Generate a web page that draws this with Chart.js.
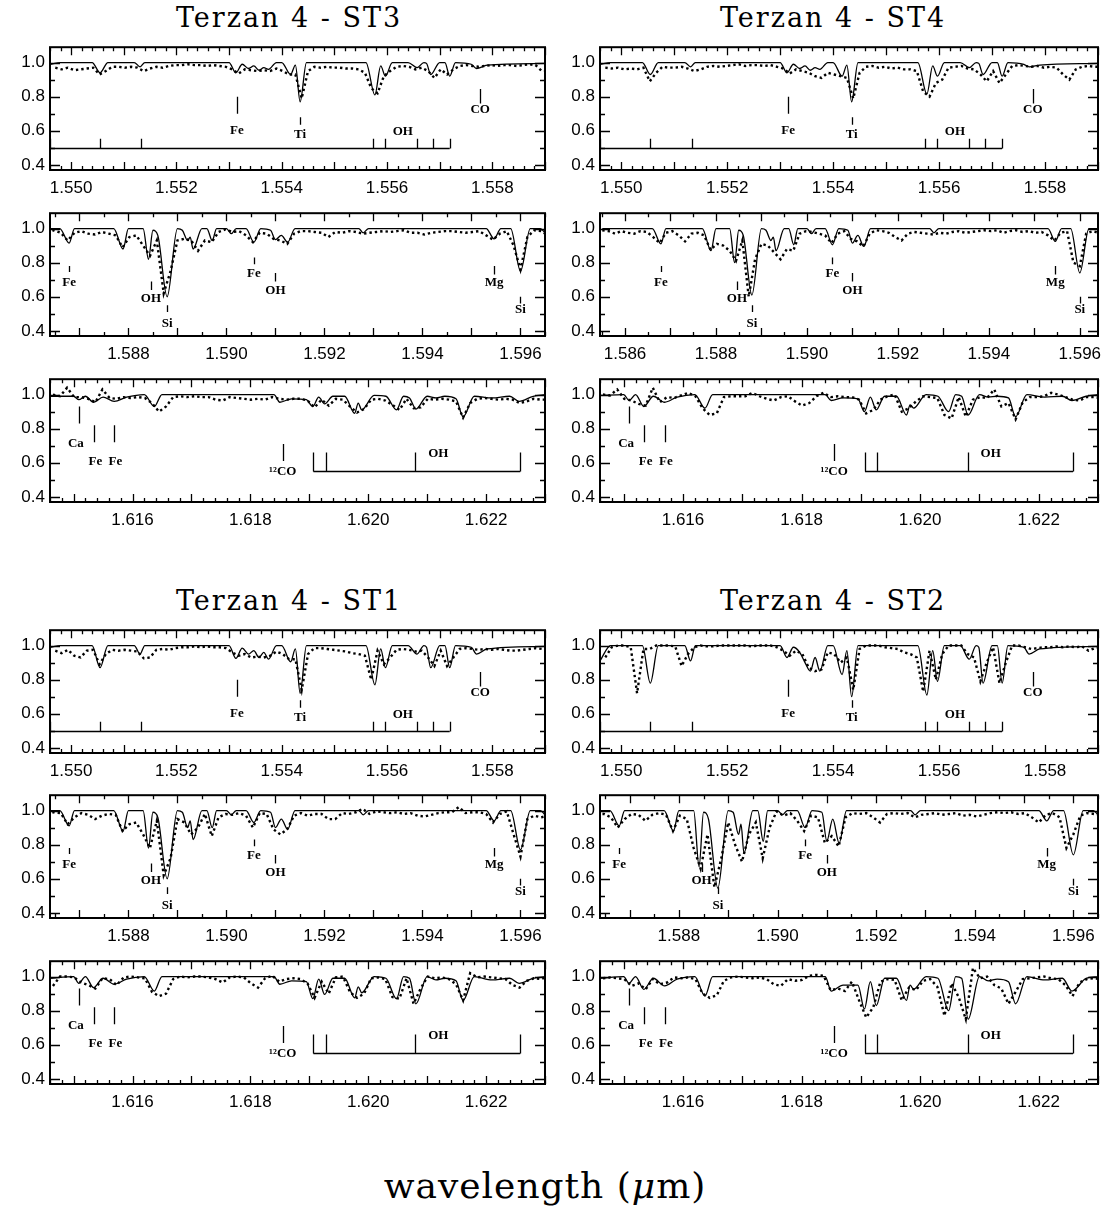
<!DOCTYPE html>
<html>
<head>
<meta charset="utf-8">
<script src="https://cdn.jsdelivr.net/npm/chart.js@4.4.1/dist/chart.umd.min.js"></script>
<style>
  body { margin: 0; background: #fff; }
  #page { position: relative; width: 1106px; height: 1207px; overflow: hidden; background: #fff; }
  #page canvas { position: absolute; }
  .txt { position: absolute; transform: translate(-50%, -50%); white-space: nowrap; color: #000; }
  .title { font-family: "DejaVu Serif"; font-size: 27px; letter-spacing: 2px; }
  .xlabel { font-family: "DejaVu Serif"; font-size: 36px; letter-spacing: 1px; }
</style>
</head>
<body>
<div id="page">
  <div class="txt title" style="left:289px; top:17px;">Terzan 4 - ST3</div>
  <div class="txt title" style="left:833px; top:17px;">Terzan 4 - ST4</div>
  <div class="txt title" style="left:289px; top:600px;">Terzan 4 - ST1</div>
  <div class="txt title" style="left:833px; top:600px;">Terzan 4 - ST2</div>
  <div class="txt xlabel" style="left:545px; top:1185px;">wavelength (<i>μ</i>m)</div>
</div>
<script>
// tick labels
const yTickLabels = [0.4, 0.6, 0.8, 1.0];
const xTicksA = [1.550, 1.552, 1.554, 1.556, 1.558];
const xTicksB = [1.588, 1.590, 1.592, 1.594, 1.596];
const xTicksBwide = [1.586, 1.588, 1.590, 1.592, 1.594, 1.596];
const xTicksC = [1.616, 1.618, 1.620, 1.622];

// --- window A (1.550 - 1.559 um) ---
const wlModA = [1.5496, 1.5498, 1.5504, 1.55055, 1.5507, 1.5512, 1.55131, 1.5514, 1.5530, 1.55313,
  1.55325, 1.55337, 1.55347, 1.55357, 1.55366, 1.55375, 1.5539, 1.5540, 1.55417, 1.55426,
  1.55435, 1.55447, 1.5556, 1.55577, 1.55588, 1.55597, 1.5561, 1.5564, 1.55657, 1.5567,
  1.55675, 1.55683, 1.5570, 1.5571, 1.55719, 1.5573, 1.5576, 1.5577, 1.5579, 1.5590];
const modST3_A = [.99, 1, 1, .94, 1, 1, .975, 1, 1, .94, .99, .965, .98, .955, .97, .96, 1, 1, .93, .985,
  .77, 1, 1, .81, .98, .92, 1, 1, .97, 1, .995, .93, 1, 1, .92, 1, .99, .965, .985, .995];
const modST4_A = [.99, 1, 1, .93, 1, 1, .975, 1, 1, .94, .99, .965, .98, .955, .97, .96, 1, 1, .92, .985,
  .77, 1, 1, .815, .98, .92, 1, 1, .97, 1, .995, .93, 1, 1, .92, 1, .99, .975, .985, .995];
const modST1_A = [.99, 1, 1, .87, 1, 1, .95, 1, 1, .925, .985, .95, .97, .93, .96, .92, 1, 1, .905, .98,
  .72, 1, 1, .77, .98, .87, 1, 1, .95, 1, .99, .87, 1, 1, .87, 1, .99, .95, .98, .995];
const modST2_A = [.91, 1, 1, .78, 1, 1, .91, 1, 1, .93, .99, .96, .90, .85, .93, .85, 1, 1, .83, .97,
  .70, 1, 1, .71, .97, .79, 1, 1, .92, 1, .99, .78, 1, 1, .78, 1, .99, .95, .98, .995];

const wlObsA = [1.54970, 1.54982, 1.54994, 1.55006, 1.55018, 1.55030, 1.55042, 1.55054, 1.55066, 1.55078,
  1.55090, 1.55102, 1.55114, 1.55126, 1.55138, 1.55150, 1.55162, 1.55174, 1.55186, 1.55198,
  1.55210, 1.55222, 1.55234, 1.55246, 1.55258, 1.55270, 1.55282, 1.55294, 1.55306, 1.55318,
  1.55330, 1.55342, 1.55354, 1.55366, 1.55378, 1.55390, 1.55402, 1.55414, 1.55426, 1.55438,
  1.55450, 1.55462, 1.55474, 1.55486, 1.55498, 1.55510, 1.55522, 1.55534, 1.55546, 1.55558,
  1.55570, 1.55582, 1.55594, 1.55606, 1.55618, 1.55630, 1.55642, 1.55654, 1.55666, 1.55678,
  1.55690, 1.55702, 1.55714, 1.55726, 1.55738, 1.55750, 1.55762, 1.55774, 1.55786, 1.55798,
  1.55810, 1.55822, 1.55834, 1.55846, 1.55858, 1.55870, 1.55882, 1.55894, 1.55906];
const obsST3_A = [.97, .96, .97, .955, .96, .965, .97, .93, .95, .975,
  .975, .97, .975, .97, .95, .965, .975, .97, .98, .985,
  .985, .99, .985, .985, .98, .985, .98, .975, .96, .935,
  .96, .955, .95, .955, .95, .965, .95, .93, .93, .79,
  .95, .975, .97, .975, .97, .97, .965, .965, .96, .94,
  .85, .82, .92, .95, .975, .98, .975, .96, .97, .95,
  .91, .96, .93, .96, .98, .985, .98, .975, .98, .985,
  .98, .985, .985, .98, .985, .99, .985, .95, .95];
const obsST4_A = [.97, .965, .97, .96, .965, .96, .97, .89, .94, .975,
  .97, .97, .975, .965, .95, .96, .975, .98, .975, .98,
  .985, .99, .98, .985, .985, .98, .985, .975, .965, .935,
  .96, .95, .94, .92, .91, .94, .93, .92, .91, .79,
  .94, .975, .98, .97, .975, .965, .97, .96, .96, .95,
  .83, .80, .88, .90, .97, .975, .98, .965, .96, .93,
  .89, .95, .88, .93, .98, .985, .98, .975, .98, .97,
  .975, .97, .93, .90, .96, .975, .98, .975, .975];
const obsST1_A = [.97, .955, .975, .94, .93, .97, .975, .89, .95, .975,
  .97, .975, .97, .965, .925, .93, .975, .98, .975, .985,
  .99, .99, .995, .99, .995, .99, .99, .985, .96, .94,
  .95, .93, .935, .93, .94, .965, .95, .92, .92, .74,
  .95, .985, .985, .98, .975, .97, .965, .955, .95, .94,
  .80, .97, .89, .93, .975, .98, .975, .965, .97, .93,
  .88, .97, .88, .93, .98, .985, .98, .975, .98, .975,
  .98, .975, .97, .97, .975, .98, .985, .98, .98];
const obsST2_A = [.93, .99, 1, 1, .99, .72, .98, .98, 1, 1,
  1, .995, .88, .95, .99, 1, .995, .995, 1, 1,
  1, 1, 1, .995, 1, 1, 1, .99, .97, .94,
  .97, .95, .87, .85, .86, .96, .95, .90, .93, .74,
  .98, 1, 1, 1, .99, .985, .98, .96, .95, .93,
  .73, .97, .80, .95, 1, 1, 1, .95, .93, .79,
  .90, .99, .78, .90, 1, 1, .99, .98, .985, .99,
  .99, .995, .99, .995, .99, .995, .97, .985, .99];

// --- window B (1.586 - 1.596 um) ---
const wlModB = [1.5855, 1.5866, 1.58679, 1.5869, 1.5877, 1.58789, 1.5880, 1.5883, 1.58841, 1.5885,
  1.5886, 1.58879, 1.5890, 1.5891, 1.58921, 1.58926, 1.58932, 1.5895, 1.5896, 1.58971,
  1.5898, 1.5900, 1.5901, 1.5902, 1.5904, 1.59056, 1.5907, 1.5909, 1.59100, 1.59112,
  1.59125, 1.5914, 1.5927, 1.59279, 1.5929, 1.5953, 1.59546, 1.5956, 1.5958, 1.5960,
  1.5962, 1.5964, 1.5966];
const modST3_B = [1, 1, .915, 1, 1, .88, 1, 1, .82, .99, .96, .60, 1, .99, .93, .95, .88, 1, 1, .93,
  1, 1, .97, 1, 1, .92, 1, .99, .935, .96, .92, 1, 1, .975, 1, 1, .94, 1, 1, .75, 1, 1, .93];
const modST4_B = [1, 1, .91, 1, 1, .87, 1, 1, .80, .99, .96, .61, 1, .99, .93, .95, .87, 1, 1, .905,
  1, 1, .97, 1, 1, .905, 1, .99, .915, .96, .895, 1, 1, .975, 1, 1, .925, 1, 1, .74, 1, 1, .93];
const modST1_B = [1, 1, .91, 1, 1, .88, 1, 1, .78, .99, .96, .60, 1, .99, .90, .94, .83, 1, 1, .90,
  1, 1, .975, 1, 1, .93, 1, .99, .90, .95, .89, 1, 1, .975, 1, 1, .94, 1, 1, .77, 1, 1, .93];
const modST2_B = [1, 1, .91, 1, 1, .88, 1, 1, .67, .99, .95, .545, 1, .99, .86, .92, .75, 1, 1, .82,
  1, 1, .975, 1, 1, .90, 1, .99, .82, .95, .81, 1, 1, .975, 1, 1, .94, 1, 1, .74, 1, 1, .93];

const wlObsB = [1.58550, 1.58564, 1.58578, 1.58592, 1.58606, 1.58620, 1.58634, 1.58648, 1.58662, 1.58676,
  1.58690, 1.58704, 1.58718, 1.58732, 1.58746, 1.58760, 1.58774, 1.58788, 1.58802, 1.58816,
  1.58830, 1.58844, 1.58858, 1.58872, 1.58886, 1.58900, 1.58914, 1.58928, 1.58942, 1.58956,
  1.58970, 1.58984, 1.58998, 1.59012, 1.59026, 1.59040, 1.59054, 1.59068, 1.59082, 1.59096,
  1.59110, 1.59124, 1.59138, 1.59152, 1.59166, 1.59180, 1.59194, 1.59208, 1.59222, 1.59236,
  1.59250, 1.59264, 1.59278, 1.59292, 1.59306, 1.59320, 1.59334, 1.59348, 1.59362, 1.59376,
  1.59390, 1.59404, 1.59418, 1.59432, 1.59446, 1.59460, 1.59474, 1.59488, 1.59502, 1.59516,
  1.59530, 1.59544, 1.59558, 1.59572, 1.59586, 1.59600, 1.59614, 1.59628, 1.59642, 1.59656];
const obsST3_B = [.98, .98, .98, .98, .98, .98, .98, .99, .975, .93,
  .975, .985, .97, .965, .98, .97, .96, .89, .95, .96,
  .90, .84, .93, .62, .75, .93, .94, .93, .87, .93,
  .92, .98, .995, .98, .985, .96, .92, .975, .97, .94,
  .93, .91, .97, .985, .985, .98, .975, .95, .98, .975,
  .985, .98, .97, .975, .98, .985, .98, .985, .99, .975,
  .975, .965, .975, .98, .985, .985, .98, .975, .98, .985,
  .96, .935, .97, .985, .90, .76, .95, .99, .985, .96];
const obsST4_B = [.99, .985, .97, .985, .975, .97, .985, .98, .95, .915,
  .975, .985, .96, .925, .97, .975, .96, .875, .91, .90,
  .87, .81, .93, .60, .82, .91, .90, .86, .82, .88,
  .87, .97, .985, .98, .97, .96, .915, .97, .985, .94,
  .925, .895, .97, .99, .985, .975, .95, .93, .97, .98,
  .975, .97, .965, .975, .97, .98, .985, .975, .98, .985,
  .99, .985, .99, .975, .985, .99, .98, .985, .975, .98,
  .96, .93, .975, .985, .80, .78, .97, .985, .975, .97];
const obsST1_B = [.98, .98, .98, .98, .98, .98, .98, .99, .985, .92,
  .96, .985, .975, .95, .97, .98, .975, .88, .92, .93,
  .86, .78, .94, .62, .72, .95, .93, .86, .90, .98,
  .85, .96, .98, .975, .985, .97, .90, .985, .98, .89,
  .86, .89, .97, .985, .97, .98, .98, .95, .95, .985,
  .98, .99, 1.01, .98, .995, .99, .985, .99, .98, .985,
  .97, .965, .975, .985, .99, .99, 1.02, .985, .99, .99,
  .98, .93, .98, .995, .86, .73, .95, .97, .96, .97];
const obsST2_B = [.98, .98, .98, .98, .98, .98, .98, .98, .96, .90,
  .95, .98, .975, .94, .975, .985, .975, .88, .97, .95,
  .78, .66, .86, .55, .72, .93, .80, .70, .86, .93,
  .72, .90, .995, .97, .985, .94, .88, .97, .96, .81,
  .85, .79, .96, .985, .98, .985, .96, .93, .98, .985,
  .98, .985, .96, .975, .98, .985, .975, .98, .985, .97,
  .975, .965, .975, .985, .99, .985, .99, .98, .985, .96,
  .93, .975, .985, .96, .78, .86, .97, .985, .98, .975];

// --- window C (1.615 - 1.623 um) ---
const wlModC = [1.6146, 1.6150, 1.61509, 1.6152, 1.61534, 1.6155, 1.61569, 1.6159, 1.6162, 1.61637,
  1.6165, 1.6184, 1.6185, 1.6187, 1.61895, 1.61906, 1.61916, 1.61926, 1.6194, 1.6196,
  1.61977, 1.61983, 1.61989, 1.6201, 1.6203, 1.62048, 1.6206, 1.6207, 1.62081, 1.6210,
  1.62115, 1.6213, 1.62149, 1.62161, 1.6218, 1.6221, 1.6224, 1.62256, 1.6228, 1.6230];
const modST3_C = [.99, .99, .97, .99, .955, .985, .96, .985, 1, .93, 1, 1, .955, .975, .97, .93, .985, .945, .99, .99,
  .89, .95, .91, .995, .99, .91, .99, .98, .915, .99, .98, .99, .975, .87, .99, .98, .99, .96, .99, 1];
const modST4_C = [.995, 1, .965, 1, .93, .99, .955, .985, 1, .92, 1, 1, .965, .98, .975, .90, .985, .91, .99, .99,
  .88, .94, .92, 1, .99, .90, 1, .99, .88, 1, .985, .99, .98, .87, 1, .985, .99, .965, .99, 1];
const modST1_C = [.99, 1, .96, 1, .935, .99, .955, .985, 1, .915, 1, 1, .955, .975, .97, .87, .985, .895, .99, .99,
  .875, .94, .905, 1, .99, .87, 1, .99, .84, 1, .98, .99, .975, .86, 1, .98, .99, .96, .99, 1];
const modST2_C = [.99, 1, .96, 1, .925, .99, .945, .985, 1, .885, 1, 1, .915, .95, .95, .81, .97, .83, .99, .99,
  .86, .95, .925, 1, .99, .80, 1, .99, .75, 1, .975, .985, .97, .84, 1, .98, .99, .915, .99, 1];

const wlObsC = [1.61465, 1.61477, 1.61489, 1.61501, 1.61513, 1.61525, 1.61537, 1.61549, 1.61561, 1.61573,
  1.61585, 1.61597, 1.61609, 1.61621, 1.61633, 1.61645, 1.61657, 1.61669, 1.61681, 1.61693,
  1.61705, 1.61717, 1.61729, 1.61741, 1.61753, 1.61765, 1.61777, 1.61789, 1.61801, 1.61813,
  1.61825, 1.61837, 1.61849, 1.61861, 1.61873, 1.61885, 1.61897, 1.61909, 1.61921, 1.61933,
  1.61945, 1.61957, 1.61969, 1.61981, 1.61993, 1.62005, 1.62017, 1.62029, 1.62041, 1.62053,
  1.62065, 1.62077, 1.62089, 1.62101, 1.62113, 1.62125, 1.62137, 1.62149, 1.62161, 1.62173,
  1.62185, 1.62197, 1.62209, 1.62221, 1.62233, 1.62245, 1.62257, 1.62269, 1.62281, 1.62293,
  1.62305];
const obsST3_C = [1.0, .99, 1.04, .985, .985, .975, .955, 1.03, .98, .975,
  .985, .98, .985, .98, .95, .90, .93, .985, .99, .985,
  .99, .985, .985, .97, .965, .985, .98, .975, .97, .975,
  .97, .985, .975, .97, .975, .975, .965, .925, .97, .935,
  .975, .97, .93, .895, .915, .97, .975, .965, .94, .91,
  .975, .92, .925, .975, .97, .975, .97, .96, .865, .95,
  .975, .98, .975, .97, .975, .97, .95, .96, .975, .97,
  .97];
const obsST4_C = [1.0, .995, 1.03, .975, .965, .945, .935, 1.04, .955, .985,
  .98, .995, 1.01, .99, .92, .88, .89, .985, .99, .99,
  .99, 1.01, .99, .975, .965, .985, .99, .96, .935, .95,
  .99, 1.01, .985, .99, .985, .985, .97, .89, .91, .97,
  .99, 1.0, .90, .92, .96, .99, .985, .98, .88, .86,
  .985, .87, .97, .985, .98, 1.03, .93, .95, .855, .955,
  .985, .985, .99, 1.01, 1.0, .985, .97, .965, .985, .985,
  .98];
const obsST1_C = [.945, 1.0, 1.0, .995, .965, .95, .93, .99, .985, .95,
  .995, 1.0, .995, .99, .91, .885, .90, .985, 1.0, .995,
  1.0, 1.0, .995, .985, .965, .995, 1.0, .995, .96, .935,
  .99, 1.005, .97, .985, .99, .985, .96, .875, .97, .90,
  .995, 1.0, .91, .875, .90, .99, .995, .985, .88, .87,
  .99, .84, .93, 1.0, .99, .995, .985, .955, .86, 1.02,
  .995, 1.0, .995, .99, .985, .95, .935, .975, .99, .985,
  1.0];
const obsST2_C = [.99, .995, .99, .985, .945, .96, .925, .985, .955, .965,
  .995, .99, .995, .985, .90, .875, .89, .975, .995, 1.0,
  .995, .99, .995, .985, .955, .945, .985, .975, .98, 1.005,
  1.01, 1.005, .92, .93, .915, .97, .86, .76, .82, .97,
  .985, .98, .86, .935, .92, .975, .985, .94, .77, .96,
  .88, .75, 1.05, .99, 1.0, .95, .93, .84, .91, .985,
  .99, .995, 1.0, .99, .985, .95, .885, .965, .985, .99,
  .985];

// line identifications (wavelength, marker span and label height in flux units)
const marksA = [
  { label: "Fe", wl: 1.55315, y0: 0.70, y1: 0.80, ly: 0.60 },
  { label: "Ti", wl: 1.55435, y0: 0.635, y1: 0.68, ly: 0.577 },
  { label: "CO", wl: 1.55777, y0: 0.76, y1: 0.845, ly: 0.725 },
];
const ohA = { ticks: [1.5496, 1.55055, 1.55133, 1.55573, 1.55597, 1.55657, 1.55687, 1.55719], y: 0.5, top: 0.553, lx: 1.5563, ly: 0.596 };
const marksB = [
  { label: "Fe", wl: 1.58679, y0: 0.745, y1: 0.78, ly: 0.685 },
  { label: "OH", wl: 1.58846, y0: 0.64, y1: 0.69, ly: 0.59 },
  { label: "Si", wl: 1.58879, y0: 0.51, y1: 0.55, ly: 0.44 },
  { label: "Fe", wl: 1.59056, y0: 0.79, y1: 0.83, ly: 0.735 },
  { label: "OH", wl: 1.59100, y0: 0.69, y1: 0.74, ly: 0.635 },
  { label: "Mg", wl: 1.59546, y0: 0.73, y1: 0.78, ly: 0.685 },
  { label: "Si", wl: 1.59600, y0: 0.56, y1: 0.60, ly: 0.525 },
];
const marksC = [
  { label: "Ca", wl: 1.61509, y0: 0.83, y1: 0.93, lx: 1.61504, ly: 0.71 },
  { label: "Fe", wl: 1.61534, y0: 0.72, y1: 0.82, lx: 1.61537, ly: 0.604 },
  { label: "Fe", wl: 1.61569, y0: 0.72, y1: 0.82, lx: 1.61571, ly: 0.604 },
  { label: "¹²CO", wl: 1.61855, y0: 0.61, y1: 0.71, ly: 0.55 },
];
const ohC = { ticks: [1.61907, 1.61928, 1.62080, 1.62258], y: 0.55, top: 0.66, lx: 1.62119, ly: 0.652 };

const regionA = { xMin: 1.5496, xMax: 1.5590, xTicks: xTicksA, minor: 0.0002, wlMod: wlModA, wlObs: wlObsA, marks: marksA, oh: ohA };
const regionB = { xMin: 1.5864, xMax: 1.5965, xTicks: xTicksB, minor: 0.0005, wlMod: wlModB, wlObs: wlObsB, marks: marksB };
const regionBwide = { xMin: 1.58545, xMax: 1.5964, xTicks: xTicksBwide, minor: 0.0005, wlMod: wlModB, wlObs: wlObsB, marks: marksB };
const regionC = { xMin: 1.6146, xMax: 1.6230, xTicks: xTicksC, minor: 0.0002, wlMod: wlModC, wlObs: wlObsC, marks: marksC, oh: ohC };

// page layout of the frames
const rowTop = [44, 210, 376, 627, 792, 958];
const colLeft = [50, 600];
const colWidth = [495, 498];
const frameH = 126;

const panels = [
  { row: 0, col: 0, reg: regionA, mod: modST3_A, obs: obsST3_A },
  { row: 1, col: 0, reg: regionB, mod: modST3_B, obs: obsST3_B },
  { row: 2, col: 0, reg: regionC, mod: modST3_C, obs: obsST3_C },
  { row: 0, col: 1, reg: regionA, mod: modST4_A, obs: obsST4_A },
  { row: 1, col: 1, reg: regionBwide, mod: modST4_B, obs: obsST4_B },
  { row: 2, col: 1, reg: regionC, mod: modST4_C, obs: obsST4_C },
  { row: 3, col: 0, reg: regionA, mod: modST1_A, obs: obsST1_A },
  { row: 4, col: 0, reg: regionB, mod: modST1_B, obs: obsST1_B },
  { row: 5, col: 0, reg: regionC, mod: modST1_C, obs: obsST1_C },
  { row: 3, col: 1, reg: regionA, mod: modST2_A, obs: obsST2_A },
  { row: 4, col: 1, reg: regionB, mod: modST2_B, obs: obsST2_B },
  { row: 5, col: 1, reg: regionC, mod: modST2_C, obs: obsST2_C },
];

Chart.defaults.font.family = "Liberation Sans";
Chart.defaults.color = "#000";

function drawDeco(chart, reg) {
  const { ctx, chartArea: a, scales: { x, y } } = chart;
  ctx.save();
  ctx.strokeStyle = "#000";
  ctx.fillStyle = "#000";

  // inward ticks on all four sides
  ctx.lineWidth = 1.3;
  ctx.beginPath();
  const n = Math.round(0.001 / reg.minor);
  const i0 = Math.ceil(x.min / reg.minor - 1e-6);
  for (let i = i0; i * reg.minor <= x.max + 1e-9; i++) {
    const px = Math.round(x.getPixelForValue(i * reg.minor)) + 0.5;
    const len = i % n === 0 ? 8 : 4;
    ctx.moveTo(px, a.bottom); ctx.lineTo(px, a.bottom - len);
    ctx.moveTo(px, a.top); ctx.lineTo(px, a.top + len);
  }
  for (let j = 4; j <= 10; j++) {
    const py = Math.round(y.getPixelForValue(j / 10)) + 0.5;
    const len = j % 2 === 0 ? 10 : 5;
    ctx.moveTo(a.left, py); ctx.lineTo(a.left + len, py);
    ctx.moveTo(a.right, py); ctx.lineTo(a.right - len, py);
  }
  ctx.stroke();

  ctx.lineWidth = 2;
  ctx.strokeRect(a.left, a.top, a.right - a.left, a.bottom - a.top);

  // line identifications
  ctx.lineWidth = 1.3;
  ctx.font = 'bold 13px "Liberation Serif"';
  ctx.textAlign = "center";
  ctx.textBaseline = "middle";
  ctx.beginPath();
  reg.marks.forEach((m) => {
    const px = Math.round(x.getPixelForValue(m.wl)) + 0.5;
    ctx.moveTo(px, y.getPixelForValue(m.y0));
    ctx.lineTo(px, y.getPixelForValue(m.y1));
    ctx.fillText(m.label, x.getPixelForValue(m.lx || m.wl), y.getPixelForValue(m.ly));
  });
  const oh = reg.oh;
  if (oh) {
    const by = Math.round(y.getPixelForValue(oh.y)) + 0.5;
    ctx.moveTo(x.getPixelForValue(oh.ticks[0]), by);
    ctx.lineTo(x.getPixelForValue(oh.ticks[oh.ticks.length - 1]), by);
    oh.ticks.forEach((t) => {
      const px = Math.round(x.getPixelForValue(t)) + 0.5;
      ctx.moveTo(px, by);
      ctx.lineTo(px, y.getPixelForValue(oh.top));
    });
    ctx.fillText("OH", x.getPixelForValue(oh.lx), y.getPixelForValue(oh.ly));
  }
  ctx.stroke();
  ctx.restore();
}

function makePanel(p) {
  const reg = p.reg;
  const w = colWidth[p.col];
  const W = w + 50 + 12;
  const H = 12 + frameH + 32;
  const cv = document.createElement("canvas");
  cv.width = W;
  cv.height = H;
  cv.style.left = (colLeft[p.col] - 50) + "px";
  cv.style.top = (rowTop[p.row] - 12) + "px";
  cv.style.width = W + "px";
  cv.style.height = H + "px";
  document.getElementById("page").appendChild(cv);

  new Chart(cv, {
    type: "line",
    data: {
      datasets: [
        {
          data: reg.wlMod.map((wl, i) => ({ x: wl, y: p.mod[i] })),
          borderColor: "#000",
          borderWidth: 1.3,
          pointRadius: 0,
          cubicInterpolationMode: "monotone",
        },
        {
          data: reg.wlObs.map((wl, i) => ({ x: wl, y: p.obs[i] })),
          borderColor: "#000",
          borderWidth: 2.4,
          borderDash: [2.4, 3],
          borderCapStyle: "butt",
          pointRadius: 0,
          tension: 0,
        },
      ],
    },
    options: {
      responsive: false,
      animation: false,
      devicePixelRatio: 1,
      events: [],
      layout: { padding: { top: 12, right: 12, left: 0, bottom: 0 } },
      plugins: { legend: { display: false }, tooltip: { enabled: false } },
      scales: {
        x: {
          type: "linear",
          min: reg.xMin,
          max: reg.xMax,
          grid: { display: false, drawTicks: false },
          border: { display: false },
          afterBuildTicks: (s) => { s.ticks = reg.xTicks.map((v) => ({ value: v })); },
          afterFit: (s) => { s.height = 32; },
          ticks: {
            padding: 8,
            autoSkip: false,
            maxRotation: 0,
            minRotation: 0,
            font: { size: 17 },
            callback: (v) => Number(v).toFixed(3),
          },
        },
        y: {
          min: 0.37,
          max: 1.09,
          grid: { display: false, drawTicks: false },
          border: { display: false },
          afterBuildTicks: (s) => { s.ticks = yTickLabels.map((v) => ({ value: v })); },
          afterFit: (s) => { s.width = 50; },
          ticks: {
            padding: 5,
            autoSkip: false,
            font: { size: 17 },
            callback: (v) => Number(v).toFixed(1),
          },
        },
      },
    },
    plugins: [{ id: "deco", afterDraw: (chart) => drawDeco(chart, reg) }],
  });
}

panels.forEach(makePanel);
</script>
</body>
</html>
